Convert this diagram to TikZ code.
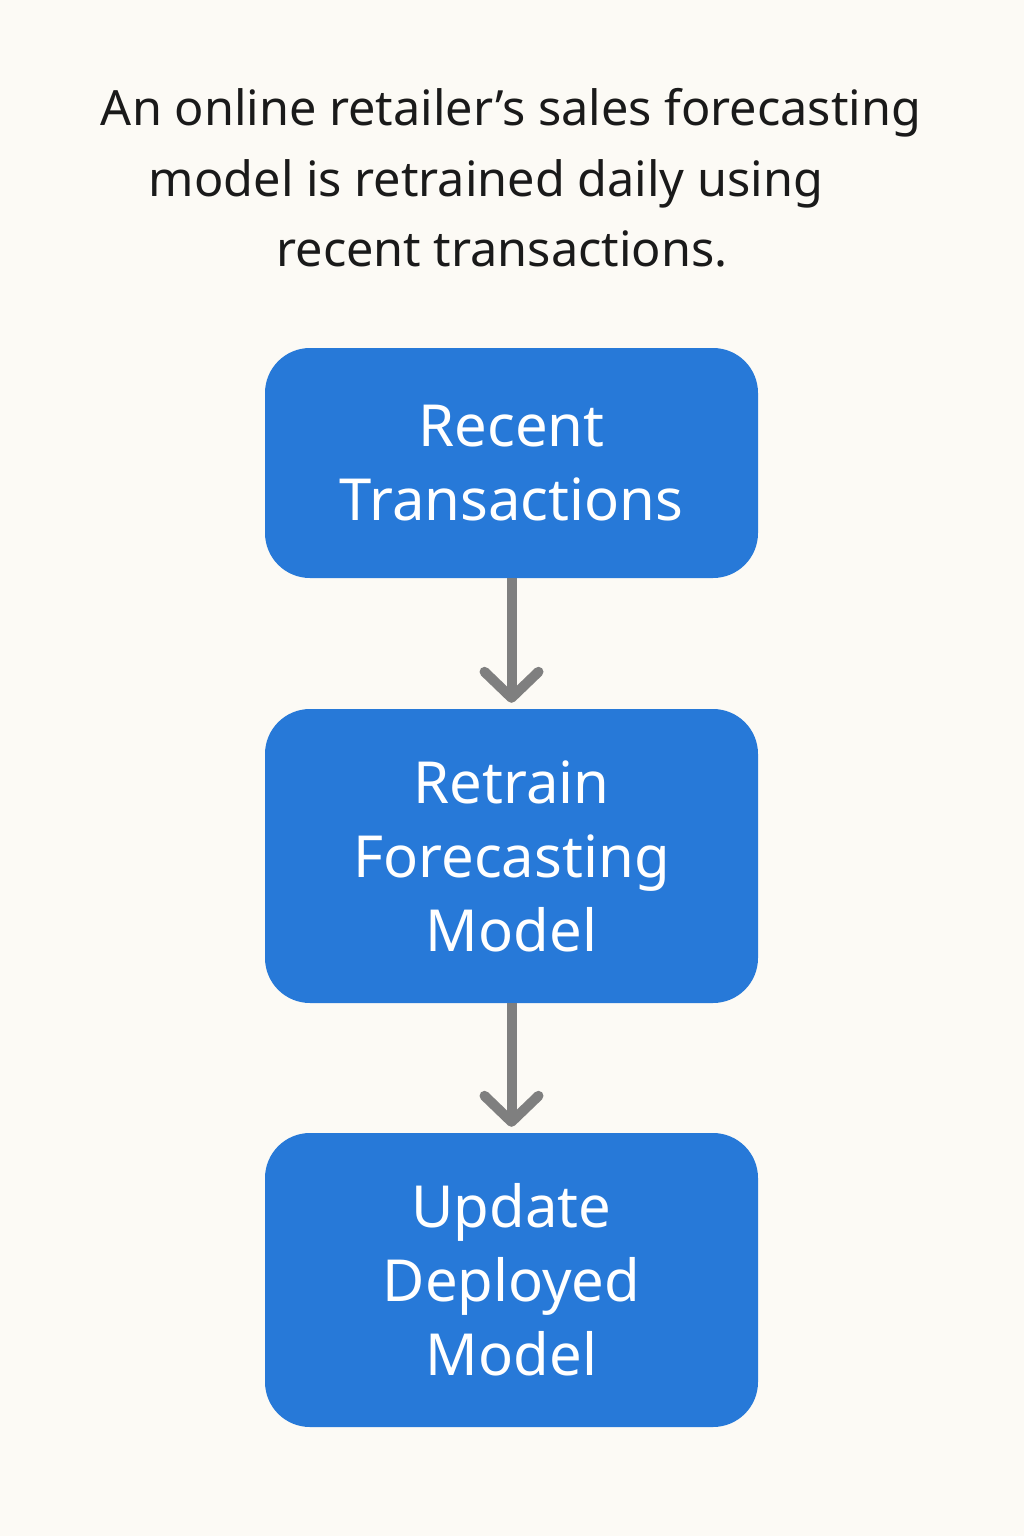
\documentclass[tikz,border=0pt]{standalone}
\usepackage{fontspec}
\setmainfont{Noto Sans}
\usetikzlibrary{arrows.meta,calc}
\definecolor{bg}{HTML}{FCFAF5}
\definecolor{boxblue}{HTML}{2779D8}
\definecolor{arrowgray}{HTML}{7F7F7F}
\definecolor{titleink}{HTML}{1A1A1A}
\tikzset{
  flowbox/.style={rounded corners=45pt, fill=boxblue, draw=none, minimum width=493pt,
    text=white, font=\fontsize{58}{74}\selectfont, align=center, inner sep=0pt},
  titleline/.style={anchor=base, text=titleink, font=\fontsize{48.6}{70}\selectfont, inner sep=0pt},
  flowarrow/.style={draw=arrowgray, line width=10pt,
    -{Straight Barb[length=26pt,width=54pt,round]}}
}
\begin{document}
\begin{tikzpicture}[x=1pt,y=-1pt]
\fill[bg] (0,0) rectangle (1024,1536);
\useasboundingbox (0,0) rectangle (1024,1536);
\node[titleline] (t1) at (511,126) {An online retailer’s sales forecasting};
\node[titleline] (t2) at (486,196) {model is retrained daily using};
\node[titleline] (t3) at (502,266) {recent transactions.};
\node[flowbox, minimum height=230pt] (n1) at (511.5,463) {Recent\\Transactions};
\node[flowbox, minimum height=294pt] (n2) at (511.5,856) {Retrain\\Forecasting\\Model};
\node[flowbox, minimum height=294pt] (n3) at (511.5,1280) {Update\\Deployed\\Model};
\draw[flowarrow, shorten >=6pt] (n1.south) -- (n2.north);
\draw[flowarrow, shorten >=6pt] (n2.south) -- (n3.north);
\end{tikzpicture}
\end{document}
